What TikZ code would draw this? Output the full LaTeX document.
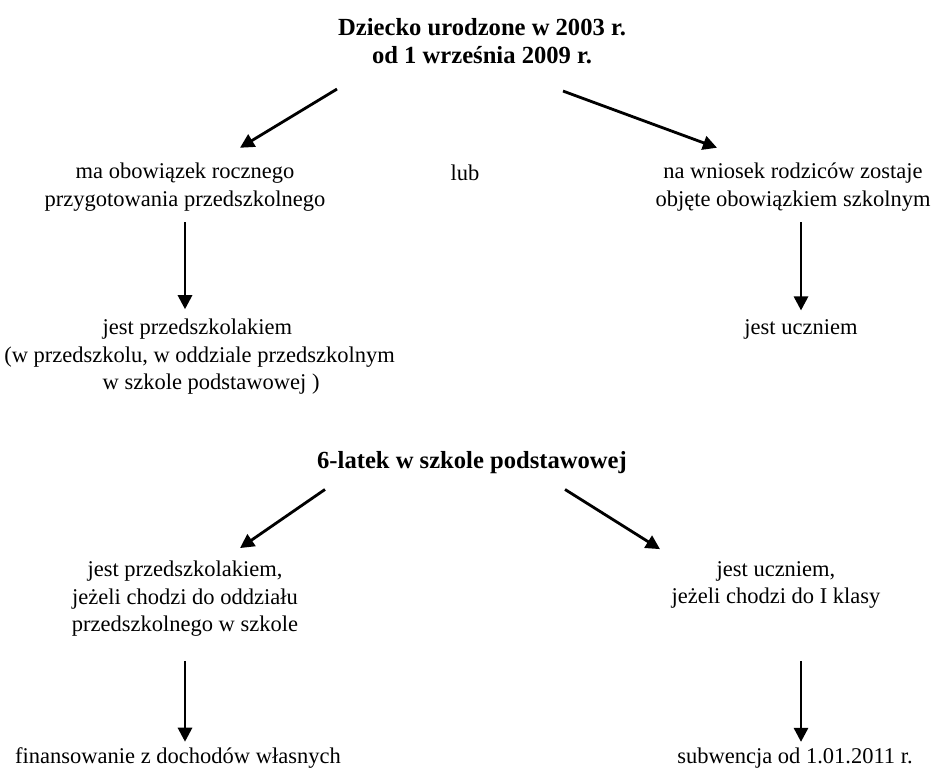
\documentclass[tikz,border=0pt]{standalone}
\usepackage{fontspec}
\setmainfont{Liberation Serif}
\usetikzlibrary{arrows.meta,calc}

\tikzset{
  txt/.style={align=center, inner sep=0pt, font=\fontsize{16}{19.5}\selectfont},
  head/.style={txt, font=\fontsize{17.5}{20}\selectfont\bfseries},
  arr/.style={line width=2pt, -{Triangle[length=10pt,width=10pt]}}
}

\begin{document}
\begin{tikzpicture}[x=0.025cm, y=-0.025cm]
\useasboundingbox (0,0) rectangle (931,774);

% Top block
\node[head] (born) at (482,41) {Dziecko urodzone w 2003 r.\\od 1 września 2009 r.};
\node[txt] (duty) at (185,187) {ma obowiązek rocznego\\przygotowania przedszkolnego};
\node[txt] (or) at (465,173) {lub};
\node[txt] (request) at (793,187) {na wniosek rodziców zostaje\\objęte obowiązkiem szkolnym};
\node[txt, align=left, anchor=west] (preschooler) at (4,357)
  {\hspace*{70pt}jest przedszkolakiem\\(w przedszkolu, w oddziale przedszkolnym\\\hspace*{70pt}w szkole podstawowej )};
\node[txt] (pupil) at (801,329) {jest uczniem};

% Bottom block
\node[head] (six) at (472,463) {6-latek w szkole podstawowej};
\node[txt] (preschool2) at (185,599) {jest przedszkolakiem,\\jeżeli chodzi do oddziału\\przedszkolnego w szkole};
\node[txt] (pupil2) at (776,585) {jest uczniem,\\jeżeli chodzi do I klasy};
\node[txt] (own) at (178,758) {finansowanie z dochodów własnych};
\node[txt] (grant) at (795,758) {subwencja od 1.01.2011 r.};

% Arrows
\draw[arr] ($(born.south)+(-145,25)$) -- ($(duty.north)+(55,-15)$);
\draw[arr] ($(born.south)+(81,27)$) -- ($(request.north)+(-76,-15)$);
\draw[arr, shorten <=8pt, shorten >=7pt] (duty.south) -- (duty.south |- preschooler.north);
\draw[arr, shorten <=8pt, shorten >=6pt] (request.south -| pupil.north) -- (pupil.north);
\draw[arr] ($(six.south)+(-147,15)$) -- ($(preschool2.north)+(55,-13)$);
\draw[arr] ($(six.south)+(93,15)$) -- ($(pupil2.north)+(-116,-12)$);
\draw[arr, shorten <=17pt, shorten >=4pt] (preschool2.south) -- (preschool2.south |- own.north);
\draw[arr, shorten <=37pt, shorten >=4pt] (pupil2.south -| pupil.north) -- (pupil.north |- grant.north);
\end{tikzpicture}
\end{document}
